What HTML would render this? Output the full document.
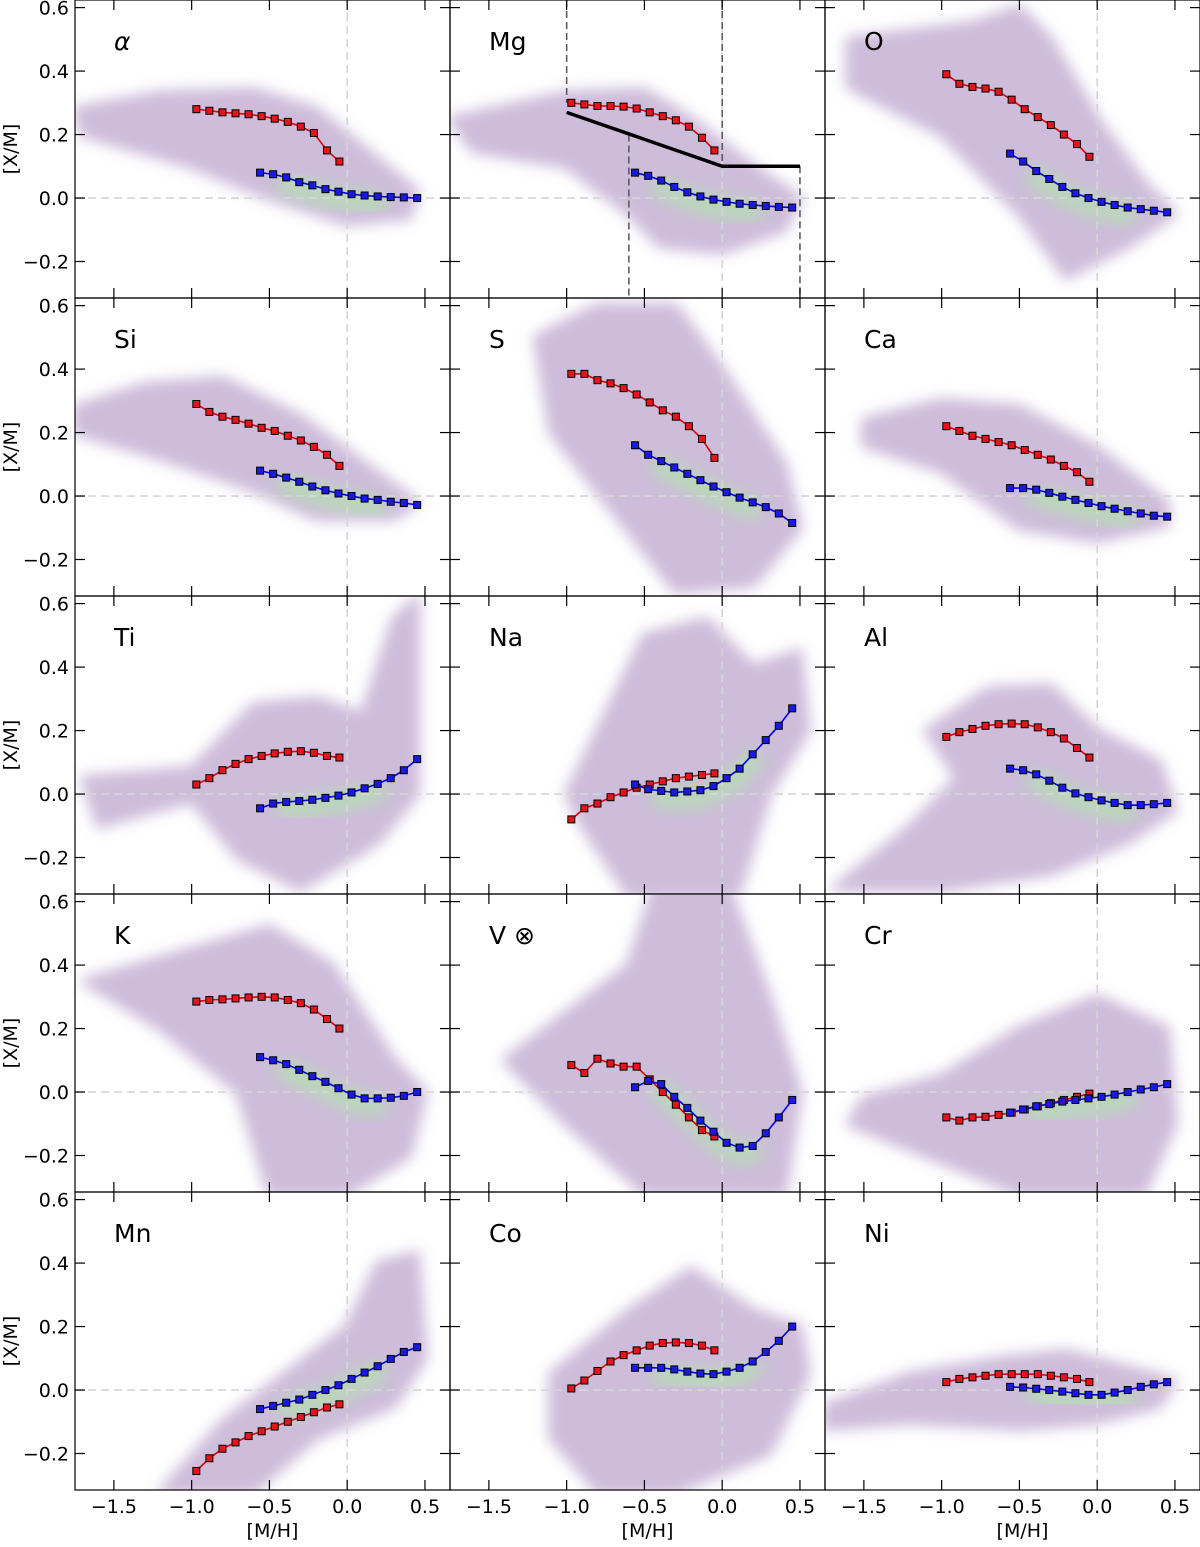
<!DOCTYPE html>
<html><head><meta charset="utf-8"><style>
body{margin:0;background:#fff;}
svg text{font-family:"DejaVu Sans","Liberation Sans",sans-serif;}
</style></head><body>
<svg id="fig" width="1200" height="1542" viewBox="0 0 1200 1542" xmlns="http://www.w3.org/2000/svg">
<defs>
<filter id="blurS" x="-20%" y="-20%" width="140%" height="140%"><feGaussianBlur stdDeviation="7"/></filter>
<filter id="blurL" x="-50%" y="-50%" width="200%" height="200%"><feGaussianBlur stdDeviation="8"/></filter>
</defs>
</svg>
<script>
const names=["α","Mg","O","Si","S","Ca","Ti","Na","Al","K","V ⊗","Cr","Mn","Co","Ni"];
const redX=[-0.97,-0.886,-0.802,-0.718,-0.634,-0.55,-0.466,-0.382,-0.298,-0.214,-0.13,-0.05];
const blueX=[-0.56,-0.476,-0.392,-0.308,-0.224,-0.14,-0.056,0.028,0.112,0.196,0.28,0.364,0.45];
const redY=[
[0.28,0.275,0.27,0.267,0.264,0.258,0.25,0.24,0.225,0.205,0.15,0.115],
[0.30,0.295,0.29,0.29,0.288,0.282,0.27,0.258,0.245,0.225,0.19,0.15],
[0.39,0.36,0.35,0.345,0.335,0.31,0.28,0.255,0.23,0.20,0.17,0.13],
[0.29,0.265,0.25,0.24,0.228,0.215,0.205,0.19,0.175,0.155,0.13,0.095],
[0.385,0.385,0.365,0.355,0.34,0.32,0.295,0.27,0.25,0.22,0.18,0.12],
[0.22,0.205,0.19,0.18,0.17,0.16,0.145,0.13,0.115,0.095,0.075,0.045],
[0.03,0.05,0.075,0.095,0.11,0.12,0.128,0.133,0.135,0.13,0.12,0.115],
[-0.08,-0.045,-0.03,-0.01,0.005,0.02,0.03,0.04,0.05,0.055,0.06,0.065],
[0.18,0.195,0.205,0.215,0.22,0.222,0.22,0.21,0.195,0.175,0.145,0.115],
[0.285,0.29,0.292,0.295,0.298,0.3,0.298,0.29,0.28,0.26,0.23,0.2],
[0.085,0.06,0.105,0.09,0.08,0.08,0.04,0.0,-0.04,-0.08,-0.12,-0.14],
[-0.08,-0.09,-0.08,-0.078,-0.072,-0.065,-0.055,-0.045,-0.035,-0.025,-0.015,-0.005],
[-0.255,-0.215,-0.185,-0.165,-0.145,-0.13,-0.115,-0.1,-0.085,-0.07,-0.055,-0.045],
[0.005,0.03,0.06,0.09,0.11,0.125,0.14,0.148,0.15,0.148,0.14,0.125],
[0.025,0.035,0.04,0.045,0.05,0.05,0.05,0.05,0.045,0.04,0.035,0.025]];
const blueY=[
[0.08,0.075,0.065,0.05,0.04,0.028,0.02,0.012,0.008,0.005,0.003,0.002,0.0],
[0.08,0.07,0.055,0.035,0.018,0.005,-0.005,-0.012,-0.018,-0.022,-0.025,-0.028,-0.03],
[0.14,0.115,0.085,0.06,0.035,0.015,0.0,-0.012,-0.022,-0.03,-0.035,-0.04,-0.045],
[0.08,0.07,0.058,0.045,0.03,0.018,0.008,0.0,-0.008,-0.012,-0.018,-0.022,-0.028],
[0.16,0.13,0.11,0.09,0.07,0.05,0.03,0.012,-0.005,-0.02,-0.035,-0.055,-0.085],
[0.025,0.025,0.02,0.01,-0.002,-0.012,-0.022,-0.032,-0.04,-0.048,-0.055,-0.062,-0.065],
[-0.045,-0.03,-0.025,-0.022,-0.018,-0.012,-0.005,0.005,0.018,0.032,0.05,0.075,0.11],
[0.03,0.015,0.01,0.005,0.008,0.012,0.025,0.05,0.08,0.125,0.17,0.215,0.27],
[0.08,0.075,0.062,0.042,0.02,0.002,-0.01,-0.02,-0.028,-0.035,-0.035,-0.032,-0.028],
[0.11,0.1,0.088,0.07,0.05,0.032,0.012,-0.008,-0.02,-0.02,-0.018,-0.012,0.0],
[0.015,0.035,0.025,-0.015,-0.05,-0.09,-0.125,-0.16,-0.175,-0.17,-0.13,-0.08,-0.025],
[-0.065,-0.055,-0.045,-0.038,-0.03,-0.025,-0.02,-0.015,-0.008,0.0,0.008,0.015,0.025],
[-0.06,-0.05,-0.04,-0.03,-0.015,0.0,0.015,0.035,0.055,0.075,0.098,0.12,0.135],
[0.07,0.07,0.07,0.065,0.058,0.052,0.05,0.058,0.07,0.09,0.12,0.155,0.2],
[0.01,0.008,0.004,0.0,-0.005,-0.01,-0.015,-0.015,-0.008,0.0,0.01,0.018,0.025]];
const cloud=[
[[-1.75,0.28],[-1.2,0.33],[-0.6,0.34],[-0.2,0.28],[0.2,0.12],[0.45,0.02],[0.4,-0.06],[0,-0.08],[-0.5,0.0],[-1,0.1],[-1.7,0.2]],
[[-1.75,0.25],[-1,0.33],[-0.5,0.34],[-0.2,0.25],[0.2,0.1],[0.5,0.0],[0.4,-0.1],[0,-0.17],[-0.4,-0.15],[-0.6,-0.05],[-1,0.1],[-1.6,0.15]],
[[-1.6,0.5],[-0.8,0.55],[-0.5,0.6],[-0.3,0.5],[0,0.25],[0.3,0.05],[0.5,-0.05],[0.2,-0.15],[-0.2,-0.25],[-0.5,-0.05],[-1,0.2],[-1.6,0.35]],
[[-1.75,0.28],[-1.3,0.35],[-0.8,0.37],[-0.3,0.25],[0.2,0.07],[0.45,-0.02],[0.3,-0.07],[-0.2,-0.07],[-0.6,0.02],[-1.2,0.12],[-1.75,0.2]],
[[-1.2,0.5],[-0.8,0.6],[-0.3,0.6],[0,0.4],[0.4,0.1],[0.5,-0.1],[0.2,-0.28],[-0.3,-0.3],[-0.7,-0.05],[-1.1,0.2]],
[[-1.5,0.24],[-1,0.3],[-0.5,0.28],[0,0.15],[0.45,-0.02],[0.45,-0.09],[0,-0.14],[-0.5,-0.1],[-1,0.08],[-1.5,0.16]],
[[-1.7,0.05],[-1,0.08],[-0.6,0.28],[-0.2,0.3],[0.1,0.25],[0.3,0.55],[0.45,0.62],[0.45,0.0],[0.2,-0.15],[-0.3,-0.3],[-0.7,-0.2],[-1,-0.02],[-1.6,-0.1]],
[[-1,0.0],[-0.7,0.3],[-0.5,0.5],[-0.1,0.55],[0.2,0.4],[0.5,0.45],[0.55,0.2],[0.3,0.0],[0.1,-0.32],[-0.6,-0.32],[-0.9,-0.1]],
[[-1.1,0.2],[-0.7,0.33],[-0.3,0.34],[0,0.2],[0.4,0.1],[0.5,-0.05],[0.2,-0.15],[-0.3,-0.25],[-1,-0.3],[-1.7,-0.3],[-1.2,-0.1],[-0.9,0.05]],
[[-1.7,0.35],[-1,0.45],[-0.5,0.52],[-0.1,0.4],[0.3,0.1],[0.5,0.0],[0.4,-0.2],[0,-0.32],[-0.5,-0.32],[-0.7,0.0],[-1.2,0.2]],
[[-1.4,0.1],[-0.6,0.4],[-0.4,0.7],[0,0.7],[0.3,0.3],[0.5,0.0],[0.4,-0.32],[-0.5,-0.32],[-1,-0.1]],
[[-1.5,-0.02],[-1,0.05],[-0.5,0.2],[0,0.3],[0.45,0.2],[0.5,-0.1],[0.3,-0.32],[-0.5,-0.32],[-1.1,-0.2],[-1.6,-0.1]],
[[-1.2,-0.32],[-0.8,-0.1],[-0.4,0.05],[0,0.2],[0.2,0.4],[0.45,0.43],[0.5,0.1],[0.3,-0.05],[-0.2,-0.15],[-0.6,-0.32]],
[[-1.1,0.05],[-0.6,0.25],[-0.2,0.38],[0.2,0.25],[0.5,0.2],[0.55,0.05],[0.3,-0.2],[-0.3,-0.32],[-0.8,-0.32],[-1.1,-0.15]],
[[-1.75,-0.05],[-1.2,0.05],[-0.6,0.1],[-0.2,0.12],[0.2,0.07],[0.5,0.03],[0.4,-0.05],[0,-0.1],[-0.5,-0.12],[-1.2,-0.1],[-1.75,-0.12]]];
const xTicks=[-1.5,-1.0,-0.5,0.0,0.5];
const xTickLabels=["−1.5","−1.0","−0.5","0.0","0.5"];
const yTicks=[0.6,0.4,0.2,0.0,-0.2];
const yTickLabels=["0.6","0.4","0.2","0.0","−0.2"];
const mgLine=[[-1,0.27],[0,0.10],[0.5,0.10]];

const NS="http://www.w3.org/2000/svg";
const svg=document.getElementById('fig');
const PW=375,PH=298,X0=-1.75,X1=0.661,Y0=-0.315,Y1=0.624;
function mk(tag,attrs,parent){const e=document.createElementNS(NS,tag);for(const k in attrs)e.setAttribute(k,attrs[k]);(parent||svg).appendChild(e);return e;}
for(let i=0;i<15;i++){
  const col=i%3,row=Math.floor(i/3);
  const L=75+col*PW,T=row*PH;
  const sx=v=>L+(v-X0)/(X1-X0)*PW;
  const sy=v=>T+(Y1-v)/(Y1-Y0)*PH;
  const g=mk('g',{});
  
  
  const cp=mk('clipPath',{id:'cp'+i},g);mk('rect',{x:L,y:T,width:PW,height:PH},cp);
  const inner=mk('g',{'clip-path':'url(#cp'+i+')'},g);
  const cpath=mk('path',{d:'M'+cloud[i].map(p=>sx(p[0])+','+sy(p[1])).join('L')+'Z',fill:'#cdbcda',stroke:'#cdbcda','stroke-width':6,'stroke-linejoin':'round',filter:'url(#blurS)'},inner);
  
  
  const core=mk('polyline',{points:blueX.slice(2,10).map((x,k)=>sx(x)+','+sy(blueY[i][k+2]-0.02)).join(' '),fill:'none',stroke:'#b4e0b0',"stroke-width":20,"stroke-linecap":"round",opacity:0.85,filter:'url(#blurL)'},inner);
  
  
  mk('line',{x1:sx(0),x2:sx(0),y1:T,y2:T+PH,stroke:'#d6d6d6','stroke-width':1.6,'stroke-dasharray':'8,5'},inner);
  mk('line',{x1:L,x2:L+PW,y1:sy(0),y2:sy(0),stroke:'#d6d6d6','stroke-width':1.6,'stroke-dasharray':'8,5'},inner);
  if(i===1){
    const dl=[[-1,Y1,-1,0.30],[-0.6,0.2,-0.6,Y0],[0,Y1,0,0.10],[0.5,0.10,0.5,Y0]];
    dl.forEach(d=>mk('line',{x1:sx(d[0]),x2:sx(d[2]),y1:sy(d[1]),y2:sy(d[3]),stroke:'#555','stroke-width':1.5,'stroke-dasharray':'7,4'},inner));
    const ml=mk('polyline',{points:mgLine.map(p=>sx(p[0])+','+sy(p[1])).join(' '),fill:'none',stroke:'#000','stroke-width':3.5},inner);
    
    
  }
  [[redX,redY[i],'#e00000','#e8141c','red'],[blueX,blueY[i],'#0000f0','#1a1ae6','blue']].forEach(s=>{
    const pl=mk('polyline',{points:s[0].map((x,k)=>sx(x)+','+sy(s[1][k])).join(' '),fill:'none',stroke:s[2],'stroke-width':1.6},inner);
    
    
    s[0].forEach((x,k)=>{
      const r=mk('rect',{x:sx(x)-3.5,y:sy(s[1][k])-3.5,width:7,height:7,fill:s[3],stroke:'#000','stroke-width':1},inner);
      
      
    });
  });
  mk('rect',{x:L,y:T,width:PW,height:PH,fill:'none',stroke:'#000','stroke-width':1.2},g);
  xTicks.forEach((v,k)=>{const x=sx(v);mk('line',{x1:x,x2:x,y1:T,y2:T+10,stroke:'#000','stroke-width':1.2},g);mk('line',{x1:x,x2:x,y1:T+PH,y2:T+PH-10,stroke:'#000','stroke-width':1.2},g);
    if(row===4){const t=mk('text',{x:x,y:1513,'text-anchor':'middle','font-size':19},g);t.textContent=xTickLabels[k];
      
      }});
  yTicks.forEach((v,k)=>{const y=sy(v);mk('line',{x1:L,x2:L+10,y1:y,y2:y,stroke:'#000','stroke-width':1.2},g);mk('line',{x1:L+PW,x2:L+PW-10,y1:y,y2:y,stroke:'#000','stroke-width':1.2},g);
    if(col===0){const t=mk('text',{x:69,y:y+7,'text-anchor':'end','font-size':19},g);t.textContent=yTickLabels[k];
      
      }});
  const tt=mk('text',{x:L+39,y:T+50,'font-size':25,'font-style':i===0?'italic':'normal'},g);tt.textContent=names[i];
  
  
  if(col===0){const yl=mk('text',{x:17,y:T+149,'font-size':19,'text-anchor':'middle',transform:'rotate(-90 17 '+(T+149)+')'},g);yl.textContent='[X/M]';
    
    }
  if(row===4){const xl=mk('text',{x:L+PW/2+10,y:1537,'font-size':19,'text-anchor':'middle'},g);xl.textContent='[M/H]';
    
    }
}
</script>
</body></html>
